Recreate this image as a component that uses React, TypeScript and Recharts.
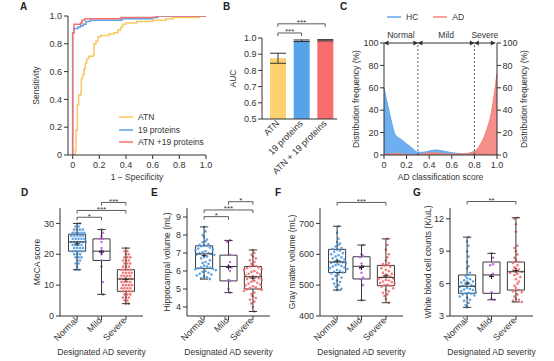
import React from 'react';
import {
  LineChart, Line, BarChart, Bar, Cell, ErrorBar, AreaChart, Area, ComposedChart, Scatter,
  XAxis, YAxis, Legend, ReferenceLine, ReferenceDot, ReferenceArea,
} from 'recharts';

const FONT = '"Liberation Sans", Arial, Helvetica, sans-serif';
const TXT = '#333333';
const AX = '#333333';
const BOX = '#3a3a3a';
const TFS = 9;
const LFS = 8.5;

// ---------------- Panel A : ROC curves ----------------
const rocAtn = [
  [0, 0], [0.02, 0.03], [0.025, 0.18], [0.035, 0.36], [0.045, 0.43], [0.06, 0.45], [0.065, 0.55],
  [0.075, 0.58], [0.085, 0.62], [0.095, 0.66], [0.105, 0.69], [0.12, 0.71], [0.155, 0.72], [0.16, 0.8],
  [0.175, 0.82], [0.19, 0.85], [0.21, 0.86], [0.27, 0.87], [0.31, 0.88], [0.34, 0.9], [0.36, 0.92],
  [0.375, 0.94], [0.4, 0.95], [0.48, 0.96], [0.6, 0.97], [0.7, 0.98], [0.75, 0.99], [0.95, 1], [1, 1],
];
const rocProteins = [
  [0, 0], [0, 0.88], [0.01, 0.91], [0.04, 0.92], [0.06, 0.93], [0.08, 0.94], [0.1, 0.96], [0.13, 0.97],
  [0.37, 0.98], [0.6, 0.99], [0.64, 1], [1, 1],
];
const rocCombined = [
  [0, 0], [0, 0.88], [0.01, 0.94], [0.06, 0.95], [0.07, 0.97], [0.09, 0.98], [0.36, 0.99], [0.62, 1], [1, 1],
];
const rocNames = ['ATN', '19 proteins', 'ATN +19 proteins'];
const rocColors = ['#f8c862', '#5aa2ea', '#f47272'];
const unitTicks = [0, 0.2, 0.4, 0.6, 0.8, 1.0];

// ---------------- Panel B : AUC bars ----------------
const aucGroups = ['ATN', '19 proteins', 'ATN + 19 proteins'];
const aucMeans = [0.875, 0.983, 0.986];
const aucErrors = [0.031, 0.005, 0.004];
const aucColors = ['#fdd16e', '#56a3e9', '#f86e6e'];
const aucTicks = [0.5, 0.6, 0.7, 0.8, 0.9, 1.0];
const aucBrackets: [string, string, number, string][] = [
  ['ATN', '19 proteins', 1.031, '***'],
  ['ATN', 'ATN + 19 proteins', 1.0875, '***'],
];

// ---------------- Panel C : score distribution ----------------
const scoreX = [0, 0.025, 0.05, 0.075, 0.1, 0.15, 0.2, 0.25, 0.3, 0.35, 0.4, 0.45, 0.5, 0.55, 0.6, 0.65, 0.7, 0.75, 0.8, 0.85, 0.9, 0.95, 1.0];
const hcFreq = [60, 48, 37, 26, 18, 14, 10, 6, 2.5, 2.5, 3.5, 4.5, 4, 3, 2, 1.5, 1, 1.5, 3, 1.5, 0.5, 0.2, 0];
const adFreq = [0.5, 0.8, 1, 1.3, 1.5, 1, 0.5, 0.3, 0.5, 1, 2, 2, 1.5, 1, 1, 1, 0.8, 1.5, 3, 9, 20, 38, 73];
const distNames = ['HC', 'AD'];
const distColors = ['#5ea6ee', '#f4827c'];
const freqTicks = [0, 20, 40, 60, 80, 100];
const zoneNames = ['Normal', 'Mild', 'Severe'];
const zoneBounds = [0, 0.3, 0.8, 0.985];

// ---------------- Panels D-G : box plots ----------------
const severityLabels = ['Normal', 'Mild', 'Severe'];
const groupColors = ['#4f9be6', '#c064e0', '#f36a6a'];

const mocaNormal = [30, 30, 29, 29, 28, 28, 28, 28, 27, 27, 27, 27, 27, 26, 26, 26, 26, 26, 25, 25, 25, 25, 25, 24, 24, 24, 24, 24, 24, 23, 23, 23, 23, 22, 22, 22, 22, 21, 21, 21, 21, 20, 20, 20, 19, 19, 19, 18, 18, 17, 17, 16, 15, 15];
const mocaMild = [28, 27, 26, 25, 25, 24, 22, 21, 21, 20, 18, 16, 11, 7];
const mocaSevere = [22, 21, 21, 20, 20, 19, 19, 19, 18, 18, 18, 17, 17, 17, 16, 16, 16, 15, 15, 15, 15, 14, 14, 14, 14, 13, 13, 13, 13, 12, 12, 12, 12, 12, 11, 11, 11, 11, 10, 10, 10, 10, 9, 9, 9, 9, 8, 8, 8, 8, 7, 7, 7, 6, 6, 6, 5, 5, 4, 4];
const mocaLow = [15, 7, 4];
const mocaQ1 = [21, 18, 8];
const mocaMed = [24, 21, 12];
const mocaQ3 = [26.5, 25, 15];
const mocaHigh = [30, 28, 22];
const mocaMean = [23.4, 20.7, 11.8];
const mocaBrackets: [number, number, number, string][] = [[1, 2, 32, '*'], [1, 3, 34.2, '***'], [2, 3, 36.8, '***']];

const hippoNormal = [8.45, 8.2, 8.0, 7.9, 7.75, 7.65, 7.6, 7.5, 7.45, 7.42, 7.4, 7.38, 7.3, 7.25, 7.2, 7.15, 7.1, 7.05, 7.0, 6.98, 6.95, 6.92, 6.9, 6.85, 6.8, 6.7, 6.6, 6.5, 6.45, 6.4, 6.3, 6.25, 6.2, 6.18, 6.15, 6.12, 6.1, 6.05, 6.0, 5.95, 5.9, 5.85, 5.8, 5.75, 5.7, 5.65, 5.6, 5.55];
const hippoMild = [7.7, 7.62, 6.9, 6.5, 6.3, 6.2, 6.0, 5.5, 5.45, 5.0, 4.8];
const hippoSevere = [7.17, 7.0, 6.9, 6.8, 6.7, 6.6, 6.5, 6.4, 6.3, 6.28, 6.25, 6.2, 6.15, 6.1, 6.05, 6.0, 5.95, 5.9, 5.85, 5.8, 5.75, 5.7, 5.68, 5.65, 5.6, 5.55, 5.5, 5.45, 5.4, 5.35, 5.3, 5.25, 5.2, 5.15, 5.1, 5.05, 5.0, 4.98, 4.95, 4.9, 4.8, 4.7, 4.6, 4.5, 4.4, 4.3, 4.2, 4.0, 3.75];
const hippoLow = [5.55, 4.8, 3.75];
const hippoQ1 = [6.15, 5.45, 5.0];
const hippoMed = [6.95, 6.25, 5.68];
const hippoQ3 = [7.4, 6.88, 6.25];
const hippoHigh = [8.45, 7.7, 7.17];
const hippoMean = [6.85, 6.2, 5.6];
const hippoBrackets: [number, number, number, string][] = [[1, 2, 9.02, '*'], [1, 3, 9.39, '***'], [2, 3, 9.85, '*']];

const grayNormal = [691, 670, 650, 640, 635, 630, 625, 620, 617, 615, 612, 608, 604, 600, 597, 593, 590, 587, 584, 580, 577, 575, 574, 572, 570, 567, 565, 562, 560, 557, 555, 552, 549, 546, 543, 541, 538, 535, 530, 525, 520, 515, 510, 505, 500, 495, 488, 484];
const grayMild = [630, 600, 595, 590, 570, 562, 555, 540, 525, 520, 500, 451];
const graySevere = [650, 630, 615, 600, 590, 580, 572, 568, 565, 563, 560, 555, 550, 545, 540, 537, 533, 530, 528, 525, 522, 520, 517, 515, 512, 510, 507, 505, 502, 500, 498, 495, 490, 485, 480, 475, 470, 465, 455, 443];
const grayLow = [484, 451, 443];
const grayQ1 = [541, 520, 498];
const grayMed = [575, 561, 525];
const grayQ3 = [616, 592, 564];
const grayHigh = [691, 630, 650];
const grayMean = [578, 557, 530];
const grayBrackets: [number, number, number, string][] = [[1, 3, 768, '***']];

const wbcNormal = [10.3, 9.9, 9.5, 9.0, 8.5, 8.0, 7.6, 7.4, 7.0, 6.8, 6.7, 6.5, 6.4, 6.3, 6.2, 6.1, 6.0, 5.9, 5.85, 5.8, 5.75, 5.7, 5.6, 5.5, 5.45, 5.4, 5.3, 5.2, 5.15, 5.1, 5.05, 5.0, 4.9, 4.8, 4.7, 4.5, 4.4, 4.2, 4.0, 3.8];
const wbcMild = [8.8, 8.4, 7.8, 7.7, 6.9, 6.7, 5.2, 4.6, 4.5];
const wbcSevere = [12.1, 12.0, 11.5, 10.8, 9.5, 9.3, 9.0, 8.7, 8.4, 8.2, 8.0, 7.9, 7.7, 7.5, 7.4, 7.3, 7.2, 7.1, 7.0, 6.9, 6.8, 6.6, 6.4, 6.2, 6.0, 5.8, 5.6, 5.4, 5.3, 5.2, 5.0, 4.8, 4.6, 4.5, 4.4, 4.3];
const wbcLow = [3.8, 4.5, 4.3];
const wbcQ1 = [5.1, 5.1, 5.4];
const wbcMed = [5.75, 6.8, 7.1];
const wbcQ3 = [6.8, 8.0, 8.0];
const wbcHigh = [10.3, 8.8, 12.1];
const wbcMean = [6.05, 6.65, 7.2];
const wbcBrackets: [number, number, number, string][] = [[1, 3, 13.6, '**']];

// ---------------- helpers ----------------
const fmt1 = (v: number) => (v === 0 ? '0' : v.toFixed(1));
const tickStyle = { fontSize: TFS, fill: TXT };

const xTitle = (text: string, dy: number) => (p: any) => {
  const vb = p.viewBox || { x: 0, y: 0, width: 0, height: 0 };
  return (
    <text x={vb.x + vb.width / 2} y={vb.y + dy} textAnchor="middle" fontSize={LFS} fill={TXT}>{text}</text>
  );
};
const yTitle = (text: string, bx: number) => (p: any) => {
  const vb = p.viewBox || { x: 0, y: 0, width: 0, height: 0 };
  const cy = vb.y + vb.height / 2;
  return (
    <text x={bx} y={cy} transform={`rotate(-90 ${bx} ${cy})`} textAnchor="middle" fontSize={LFS} fill={TXT}>{text}</text>
  );
};

const makeRotTick = (labels: string[] | null, dx: number, dy: number) => (p: any) => {
  const { x, y, payload } = p;
  const text = labels ? labels[Math.round(payload.value) - 1] : payload.value;
  return (
    <text transform={`translate(${x + dx},${y + dy}) rotate(-45)`} textAnchor="end" fontSize={TFS} fill={TXT}>{text}</text>
  );
};

const legendContent = (direction: 'row' | 'column', gap: number, order: string[]) => (p: any) => {
  const items = (p.payload || []).filter((e: any) => e.type !== 'none' && order.includes(String(e.value)));
  items.sort((a: any, b: any) => order.indexOf(String(a.value)) - order.indexOf(String(b.value)));
  return (
    <div style={{ display: 'flex', flexDirection: direction, gap, fontSize: LFS, color: TXT, fontFamily: FONT, lineHeight: '10px' }}>
      {items.map((e: any) => (
        <div key={String(e.value)} style={{ display: 'flex', alignItems: 'center', whiteSpace: 'nowrap' }}>
          <svg width={14} height={4} style={{ marginRight: 5 }}>
            <line x1={0} y1={2} x2={14} y2={2} stroke={e.color} strokeWidth={1.5} />
          </svg>
          <span>{e.value}</span>
        </div>
      ))}
    </div>
  );
};

const bracketLabel = (text: string) => (p: any) => {
  const vb = p.viewBox || { x: 0, y: 0, width: 0, height: 0 };
  return (
    <text x={vb.x + vb.width / 2} y={vb.y + 1.5} textAnchor="middle" fontSize={8} fill={TXT}>{text}</text>
  );
};

function bracket(key: string, x1: any, x2: any, y: number, drop: number, text: string) {
  const common: any = { stroke: AX, strokeWidth: 0.8, ifOverflow: 'visible' };
  return [
    <ReferenceLine key={key + 'h'} {...common} segment={[{ x: x1, y }, { x: x2, y }]} label={bracketLabel(text)} />,
    <ReferenceLine key={key + 'a'} {...common} segment={[{ x: x1, y }, { x: x1, y: y - drop }]} />,
    <ReferenceLine key={key + 'b'} {...common} segment={[{ x: x2, y }, { x: x2, y: y - drop }]} />,
  ];
}

function swarm(values: number[], center: number, bin: number, step: number) {
  const counts: Record<string, number> = {};
  return values.map((v) => {
    const key = Math.round(v / bin);
    const k = counts[key] ?? 0;
    counts[key] = k + 1;
    const odd = Math.abs(key) % 2 === 1;
    let off: number;
    if (odd) off = (k % 2 === 0 ? 1 : -1) * (Math.floor(k / 2) + 0.5);
    else off = k === 0 ? 0 : (k % 2 === 1 ? 1 : -1) * Math.ceil(k / 2);
    return { x: center + off * step, y: v };
  });
}

const dotShape = (p: any) => <circle cx={p.cx} cy={p.cy} r={1.3} fill={p.fill} fillOpacity={0.9} />;
const plusShape = (p: any) => (
  <path d={`M${p.cx - 2.5},${p.cy}H${p.cx + 2.5}M${p.cx},${p.cy - 2.5}V${p.cy + 2.5}`} stroke="#222" strokeWidth={1} />
);
const arrowShape = (dir: number) => (p: any) => (
  <path d={`M${p.cx},${p.cy}L${p.cx - dir * 4.5},${p.cy - 2.5}L${p.cx - dir * 4.5},${p.cy + 2.5}Z`} fill={AX} />
);
const zoneText = (text: string) => (p: any) => (
  <text x={p.cx} y={p.cy - 5} textAnchor="middle" fontSize={LFS} fill={TXT}>{text}</text>
);

// ---------------- Panels ----------------
function PanelA() {
  const series = [rocAtn, rocProteins, rocCombined].map((s) => s.map(([x, y]) => ({ x, y })));
  return (
    <div style={{ position: 'absolute', left: 0, top: 0 }}>
      <LineChart width={215} height={185} margin={{ top: 16, right: 9, bottom: 0, left: 0 }}>
        <XAxis type="number" dataKey="x" domain={[-0.035, 1]} allowDataOverflow ticks={unitTicks} tickFormatter={fmt1}
          height={30} tickSize={4} tickMargin={3} stroke={AX} tick={tickStyle} label={xTitle('1 − Specificity', 25)} />
        <YAxis type="number" dataKey="y" domain={[0, 1]} allowDataOverflow ticks={unitTicks} tickFormatter={fmt1}
          width={68} tickSize={4} tickMargin={2} stroke={AX} tick={tickStyle} label={yTitle('Sensitivity', 39)} />
        {series.map((d, i) => (
          <Line key={i} data={d} dataKey="y" name={rocNames[i]} type="stepAfter" stroke={rocColors[i]}
            strokeWidth={1.5} dot={false} isAnimationActive={false} legendType="line" />
        ))}
        <Legend layout="vertical" verticalAlign="middle" align="center"
          wrapperStyle={{ left: 119, top: 112, width: 'auto', height: 'auto' }} content={legendContent('column', 2.5, rocNames)} />
      </LineChart>
    </div>
  );
}

function PanelB() {
  const data = aucGroups.map((g, i) => ({ name: g, auc: aucMeans[i], err: aucErrors[i] }));
  return (
    <div style={{ position: 'absolute', left: 205, top: 0 }}>
      <BarChart width={140} height={185} data={data} margin={{ top: 38, right: 8, bottom: 0, left: 0 }}>
        <XAxis dataKey="name" type="category" height={66} padding={{ left: 4, right: 0 }} interval={0}
          tickLine={false} tickSize={2} tickMargin={0} stroke={AX} tick={makeRotTick(null, 2, 3)} />
        <YAxis type="number" domain={[0.5, 1]} allowDataOverflow ticks={aucTicks} tickFormatter={fmt1}
          width={57} tickSize={4} tickMargin={1.5} stroke={AX} tick={tickStyle} label={yTitle('AUC', 31)} />
        <Bar dataKey="auc" barSize={16} isAnimationActive={false}>
          {data.map((d, i) => <Cell key={i} fill={aucColors[i]} />)}
          <ErrorBar dataKey="err" width={8} stroke={AX} strokeWidth={1} />
        </Bar>
        {aucBrackets.map((b, i) => bracket('bb' + i, b[0], b[1], b[2], 0.019, b[3]))}
      </BarChart>
    </div>
  );
}

function PanelC() {
  const data = scoreX.map((x, i) => ({ x, hc: hcFreq[i], ad: adFreq[i] }));
  const mids = zoneNames.map((_, i) => (zoneBounds[i] + zoneBounds[i + 1]) / 2);
  return (
    <div style={{ position: 'absolute', left: 330, top: 0 }}>
      <AreaChart width={224} height={185} data={data} margin={{ top: 43, right: 7, bottom: 0, left: 0 }}>
        <XAxis type="number" dataKey="x" domain={[0, 1]} ticks={unitTicks} tickFormatter={fmt1}
          height={30} tickSize={4} tickMargin={3} stroke={AX} tick={tickStyle} label={xTitle('AD classification score', 25)} />
        <YAxis yAxisId="l" type="number" domain={[0, 100]} allowDataOverflow ticks={freqTicks} width={54} tickSize={4} tickMargin={1.5}
          stroke={AX} tick={tickStyle} label={yTitle('Distribution frequency (%)', 29)} />
        <YAxis yAxisId="r" orientation="right" type="number" domain={[0, 100]} allowDataOverflow ticks={freqTicks} width={50} tickSize={4}
          tickMargin={1.5} stroke={AX} tick={tickStyle} label={yTitle('Distribution frequency (%)', 197)} />
        <Area yAxisId="r" type="monotone" dataKey="ad" name="right-axis" stroke="none" fill="none" fillOpacity={0}
          isAnimationActive={false} legendType="none" activeDot={false} />
        <Area yAxisId="l" type="monotone" dataKey="hc" name={distNames[0]} stroke={distColors[0]} strokeWidth={1} fill={distColors[0]}
          fillOpacity={0.9} isAnimationActive={false} legendType="line" />
        <Area yAxisId="l" type="monotone" dataKey="ad" name={distNames[1]} stroke={distColors[1]} strokeWidth={1} fill={distColors[1]}
          fillOpacity={0.9} isAnimationActive={false} legendType="line" />
        {[zoneBounds[1], zoneBounds[2]].map((b, i) => (
          <ReferenceLine key={'d' + i} yAxisId="l" x={b} stroke={AX} strokeWidth={0.8} strokeDasharray="2 2" />
        ))}
        <ReferenceLine yAxisId="l" segment={[{ x: zoneBounds[0], y: 100 }, { x: zoneBounds[3], y: 100 }]}
          stroke={AX} strokeWidth={1} ifOverflow="visible" />
        {zoneNames.map((z, i) => [
          <ReferenceDot key={'al' + i} yAxisId="l" x={zoneBounds[i]} y={100} r={3} ifOverflow="visible" shape={arrowShape(-1)} />,
          <ReferenceDot key={'ar' + i} yAxisId="l" x={zoneBounds[i + 1]} y={100} r={3} ifOverflow="visible" shape={arrowShape(1)} />,
          <ReferenceDot key={'zt' + i} yAxisId="l" x={mids[i]} y={100} r={3} ifOverflow="visible" shape={zoneText(z)} />,
        ])}
        <Legend layout="vertical" verticalAlign="middle" align="center"
          wrapperStyle={{ left: 57, top: 12, width: 'auto', height: 'auto' }} content={legendContent('row', 15, distNames)} />
      </AreaChart>
    </div>
  );
}

type BoxProps = {
  left: number; width: number; yw: number; mr: number; domain: [number, number]; ticks: number[];
  title: string; titleX: number; groups: number[][]; low: number[]; q1: number[]; med: number[];
  q3: number[]; high: number[]; mean: number[]; bin: number; brackets: [number, number, number, string][]; drop: number;
};

function BoxPanel(props: BoxProps) {
  const { left, width, yw, mr, domain, ticks, title, titleX, groups, low, q1, med, q3, high, mean, bin, brackets, drop } = props;
  const centers = [1, 2, 3];
  const pts = groups.map((g, gi) => swarm(g, centers[gi], bin, 0.12));
  const hw = 0.35;
  const cw = 0.17;
  const line = { stroke: BOX, strokeWidth: 1, ifOverflow: 'visible' as const, zIndex: 700 } as any;
  return (
    <div style={{ position: 'absolute', left, top: 180 }}>
      <ComposedChart width={width} height={181} margin={{ top: 28, right: mr, bottom: 0, left: 0 }}>
        <XAxis type="number" dataKey="x" domain={[0.3, 3.7]} allowDataOverflow ticks={centers} interval={0}
          height={45} tickSize={4} tickMargin={0} stroke={AX} tick={makeRotTick(severityLabels, 1, 1)}
          label={xTitle('Designated AD severity', 39)} />
        <YAxis type="number" dataKey="y" domain={domain} allowDataOverflow ticks={ticks} width={yw}
          tickSize={4} tickMargin={2} stroke={AX} tick={tickStyle} label={yTitle(title, titleX)} />
        {pts.map((p, gi) => (
          <Scatter key={'s' + gi} data={p} fill={groupColors[gi]} shape={dotShape} isAnimationActive={false} />
        ))}
        {centers.map((c, i) => [
          <ReferenceArea key={'bx' + i} x1={c - hw} x2={c + hw} y1={q1[i]} y2={q3[i]} fill="none" fillOpacity={0}
            stroke={BOX} strokeWidth={1} ifOverflow="visible" />,
          <ReferenceLine key={'wl' + i} {...line} segment={[{ x: c, y: low[i] }, { x: c, y: q1[i] }]} />,
          <ReferenceLine key={'wh' + i} {...line} segment={[{ x: c, y: q3[i] }, { x: c, y: high[i] }]} />,
          <ReferenceLine key={'cl' + i} {...line} segment={[{ x: c - cw, y: low[i] }, { x: c + cw, y: low[i] }]} />,
          <ReferenceLine key={'ch' + i} {...line} segment={[{ x: c - cw, y: high[i] }, { x: c + cw, y: high[i] }]} />,
          <ReferenceLine key={'md' + i} {...line} segment={[{ x: c - hw, y: med[i] }, { x: c + hw, y: med[i] }]} />,
        ])}
        <Scatter data={centers.map((c, i) => ({ x: c, y: mean[i] }))} shape={plusShape} isAnimationActive={false} />
        {brackets.map((b, i) => bracket('br' + i, b[0], b[1], b[2], drop, b[3]))}
      </ComposedChart>
    </div>
  );
}

const letters: [string, number, number][] = [
  ['A', 20, 10], ['B', 223, 10], ['C', 340, 10], ['D', 21, 196], ['E', 151, 196], ['F', 275, 196], ['G', 413, 196],
];

export default function App() {
  return (
    <div style={{ position: 'absolute', left: 0, top: 0, width: 554, height: 361, background: '#fff', fontFamily: FONT, overflow: 'hidden' }}>
      <svg width={554} height={361} style={{ position: 'absolute', left: 0, top: 0 }}>
        {letters.map(([t, x, y]) => (
          <text key={t} x={x} y={y} fontSize={10} fontWeight="bold" fill="#222">{t}</text>
        ))}
      </svg>
      <PanelA />
      <PanelB />
      <PanelC />
      <BoxPanel left={0} width={150} yw={60} mr={7} domain={[0, 35]} ticks={[0, 10, 20, 30]} title="MoCA score" titleX={40}
        groups={[mocaNormal, mocaMild, mocaSevere]} low={mocaLow} q1={mocaQ1} med={mocaMed} q3={mocaQ3} high={mocaHigh}
        mean={mocaMean} bin={1} brackets={mocaBrackets} drop={1} />
      <BoxPanel left={130} width={150} yw={57} mr={10} domain={[3.5, 9.5]} ticks={[4, 5, 6, 7, 8, 9]} title="Hippocampal volume (mL)" titleX={40}
        groups={[hippoNormal, hippoMild, hippoSevere]} low={hippoLow} q1={hippoQ1} med={hippoMed} q3={hippoQ3} high={hippoHigh}
        mean={hippoMean} bin={0.28} brackets={hippoBrackets} drop={0.17} />
      <BoxPanel left={265} width={145} yw={55} mr={7} domain={[400, 750]} ticks={[400, 500, 600, 700]} title="Gray matter volume (mL)" titleX={30}
        groups={[grayNormal, grayMild, graySevere]} low={grayLow} q1={grayQ1} med={grayMed} q3={grayQ3} high={grayHigh}
        mean={grayMean} bin={16} brackets={grayBrackets} drop={10} />
      <BoxPanel left={395} width={150} yw={55} mr={12} domain={[3, 13]} ticks={[3, 6, 9, 12]} title="White blood cell counts (K/uL)" titleX={36}
        groups={[wbcNormal, wbcMild, wbcSevere]} low={wbcLow} q1={wbcQ1} med={wbcMed} q3={wbcQ3} high={wbcHigh}
        mean={wbcMean} bin={0.45} brackets={wbcBrackets} drop={0.28} />
    </div>
  );
}
